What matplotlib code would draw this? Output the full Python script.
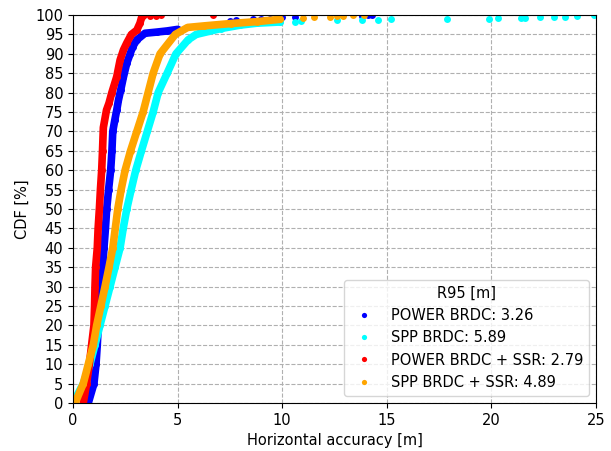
import numpy as np
import matplotlib
matplotlib.use('Agg')
import matplotlib.pyplot as plt

plt.rcParams['font.size'] = 10.5

# CDF levels [%] and horizontal error [m] for each solution
power_cdf = [0, 5, 10, 15, 20, 25, 30, 35, 40, 45, 50, 55, 60, 65, 70, 73, 75.5, 78, 80.7, 84, 87.6, 90, 91.8, 93.6, 95.3, 95.6, 95.9, 96.3]
power_acc = [0.73, 1.0, 1.1, 1.16, 1.21, 1.29, 1.37, 1.42, 1.48, 1.55, 1.61, 1.7, 1.8, 1.86, 1.9, 2.0, 2.09, 2.17, 2.28, 2.41, 2.57, 2.73, 2.85, 3.05, 3.44, 4.0, 4.5, 5.0]
power_tail_cdf = [97.0, 97.8, 98.4, 98.6, 98.9, 99.0, 99.1, 99.4, 99.5, 99.8, 99.9, 100]
power_tail_acc = [6.0, 7.0, 7.5, 7.8, 8.6, 9.0, 9.4, 10.0, 10.6, 13.8, 14.1, 14.3]

spp_cdf = [0, 5, 10, 15, 20, 25, 30, 35, 40, 45, 50, 55, 60, 65, 70, 75, 80, 85, 90, 93.6, 95, 96.5, 97.4, 97.9, 98.2]
spp_acc = [0.0, 0.49, 0.81, 1.05, 1.29, 1.53, 1.77, 2.01, 2.25, 2.4, 2.57, 2.78, 3.0, 3.27, 3.55, 3.83, 4.07, 4.5, 4.92, 5.5, 5.89, 7.06, 8.0, 8.8, 9.9]
spp_tail_cdf = [98.3, 98.4, 98.7, 98.8, 98.8, 99.0, 99.0, 99.1, 99.2, 99.3, 99.3, 99.4, 99.5, 99.6, 99.7, 100]
spp_tail_acc = [10.6, 10.9, 12.6, 13.8, 14.6, 15.2, 17.9, 19.9, 20.3, 21.4, 21.6, 22.3, 23.0, 23.5, 24.1, 24.9]

power_ssr_cdf = [0, 5, 10, 15, 20, 25, 30, 35, 40, 45, 50, 55, 60, 65, 71, 75.5, 77.3, 79.9, 84.1, 88.4, 91, 92.8, 95, 96.1, 97.9, 99.6, 100]
power_ssr_acc = [0.49, 0.65, 0.78, 0.89, 1.0, 1.03, 1.05, 1.08, 1.16, 1.2, 1.26, 1.31, 1.37, 1.41, 1.45, 1.6, 1.72, 1.85, 2.09, 2.25, 2.41, 2.57, 2.79, 3.05, 3.2, 3.29, 3.4]
power_ssr_tail_cdf = [99.7, 99.8, 100, 100]
power_ssr_tail_acc = [3.7, 3.95, 4.2, 6.7]

spp_ssr_cdf = [0, 5, 10, 15, 20, 25, 30, 35, 40, 45, 50, 55, 60, 65, 70, 75, 80, 85, 90, 95, 96.8, 97.2, 97.8, 98.3, 98.9]
spp_ssr_acc = [0.1, 0.49, 0.73, 0.97, 1.13, 1.33, 1.53, 1.72, 1.9, 2.02, 2.14, 2.3, 2.49, 2.75, 3.05, 3.35, 3.59, 3.83, 4.16, 4.89, 5.48, 6.27, 7.54, 8.8, 9.9]
spp_ssr_tail_cdf = [99.2, 99.4, 99.6, 99.7, 99.8, 99.9, 100]
spp_ssr_tail_acc = [11.0, 11.5, 12.3, 12.6, 12.9, 13.4, 13.9]

labels = ['POWER BRDC: 3.26', 'SPP BRDC: 5.89', 'POWER BRDC + SSR: 2.79', 'SPP BRDC + SSR: 4.89']
colors = ['blue', 'cyan', 'red', 'orange']

series = [
    (power_acc, power_cdf, power_tail_acc, power_tail_cdf),
    (spp_acc, spp_cdf, spp_tail_acc, spp_tail_cdf),
    (power_ssr_acc, power_ssr_cdf, power_ssr_tail_acc, power_ssr_tail_cdf),
    (spp_ssr_acc, spp_ssr_cdf, spp_ssr_tail_acc, spp_ssr_tail_cdf),
]

fig = plt.figure(figsize=(6.11, 4.51), dpi=100)
ax = fig.add_axes([0.1195, 0.1064, 0.856, 0.8603])

for (acc, cdf, tacc, tcdf), col, lab in zip(series, colors, labels):
    # dense part of the distribution as a thick band, all samples as dots
    ax.plot(acc, cdf, '-', color=col, lw=5.5, solid_capstyle='round', zorder=2)
    ax.plot(acc + tacc, cdf + tcdf, 'o', color=col, ms=5, mew=0, label=lab, zorder=2)

ax.set_xlim(0, 25)
ax.set_ylim(0, 100)
ax.set_xticks(np.arange(0, 26, 5))
ax.set_yticks(np.arange(0, 101, 5))
ax.grid(True, linestyle='--')
ax.set_xlabel('Horizontal accuracy [m]')
ax.set_ylabel('CDF [%]')
ax.legend(title='R95 [m]', loc='lower right', markerscale=0.75)

fig.savefig('out.png', dpi=100)
